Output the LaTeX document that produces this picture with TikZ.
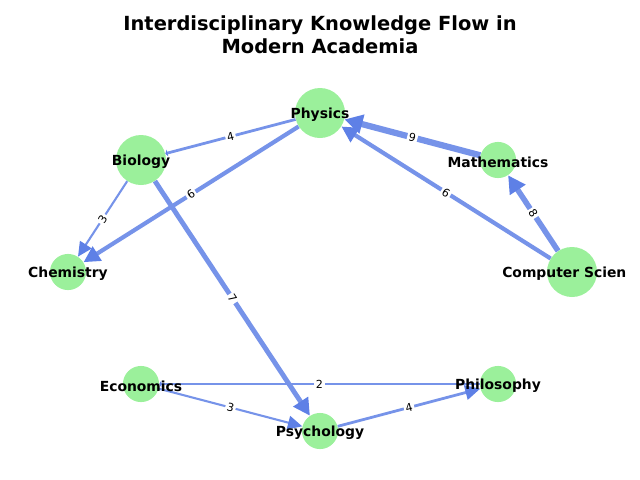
\documentclass[tikz,border=0pt]{standalone}
\usepackage{fontspec}
\setmainfont{DejaVu Sans}
\usetikzlibrary{arrows.meta}
\definecolor{fieldgreen}{HTML}{90EE90}
\definecolor{flowblue}{HTML}{4169E1}

\begin{document}
\begin{tikzpicture}[
        x=0.72pt, y=-0.72pt,
        field/.style={circle, fill=fieldgreen, fill opacity=0.9, inner sep=0pt, minimum size=26pt},
        bigfield/.style={field, minimum size=36pt},
        fieldname/.style={font=\bfseries\fontsize{10}{12}\selectfont, inner sep=0pt, yshift=-1.4pt},
        flow/.style={draw=flowblue!72!white, line width=#1*0.5pt,
                     -{Triangle[length=9pt 0.9, width=8pt 1.2, color=flowblue!85!white]}},
        thinflow/.style={draw=flowblue!72!white, line width=#1*0.5pt,
                     -{Triangle[length=1.5pt, width=5pt, color=flowblue!85!white]}},
        wt/.style={fill=white, inner sep=1.2pt, sloped, text=black,
                   font=\fontsize{8}{9}\selectfont}
        ]
      \useasboundingbox (0,0) rectangle (640,480);
      \node[font=\bfseries\fontsize{14}{16.8}\selectfont, align=center] (title) at (320,35)
        {Interdisciplinary Knowledge Flow in\\Modern Academia};
      \node[bigfield] (phys) at (320,113) {};
      \node[field] (math) at (498,160) {};
      \node[bigfield] (bio) at (141,160) {};
      \node[field] (chem) at (68,272) {};
      \node[bigfield] (cs) at (572,272) {};
      \node[field] (econ) at (141,384) {};
      \node[field] (phil) at (498,384) {};
      \node[field] (psych) at (320,431) {};
      \draw[flow=9] (math) -- node[wt] {9} (phys);
      \draw[flow=6] (cs) -- node[wt] {6} (phys);
      \draw[flow=8] (cs) -- node[wt] {8} (math);
      \draw[thinflow=4] (phys) -- node[wt] {4} (bio);
      \draw[flow=6] (phys) -- node[wt] {6} (chem);
      \draw[flow=3] (bio) -- node[wt] {3} (chem);
      \draw[flow=7] (bio) -- node[wt] {7} (psych);
      \draw[thinflow=2] (phil) -- node[wt] {2} (econ);
      \draw[flow=3] (econ) -- node[wt] {3} (psych);
      \draw[flow=4] (psych) -- node[wt] {4} (phil);
      \node[fieldname] (physT) at (phys) {Physics};
      \node[fieldname] (mathT) at (math) {Mathematics};
      \node[fieldname] (bioT) at (bio) {Biology};
      \node[fieldname] (chemT) at (chem) {Chemistry};
      \node[fieldname, anchor=west] (csT) at (502,272) {Computer Scien};
      \node[fieldname] (econT) at (econ) {Economics};
      \node[fieldname] (philT) at (phil) {Philosophy};
      \node[fieldname] (psychT) at (psych) {Psychology};
    \end{tikzpicture}
\end{document}
